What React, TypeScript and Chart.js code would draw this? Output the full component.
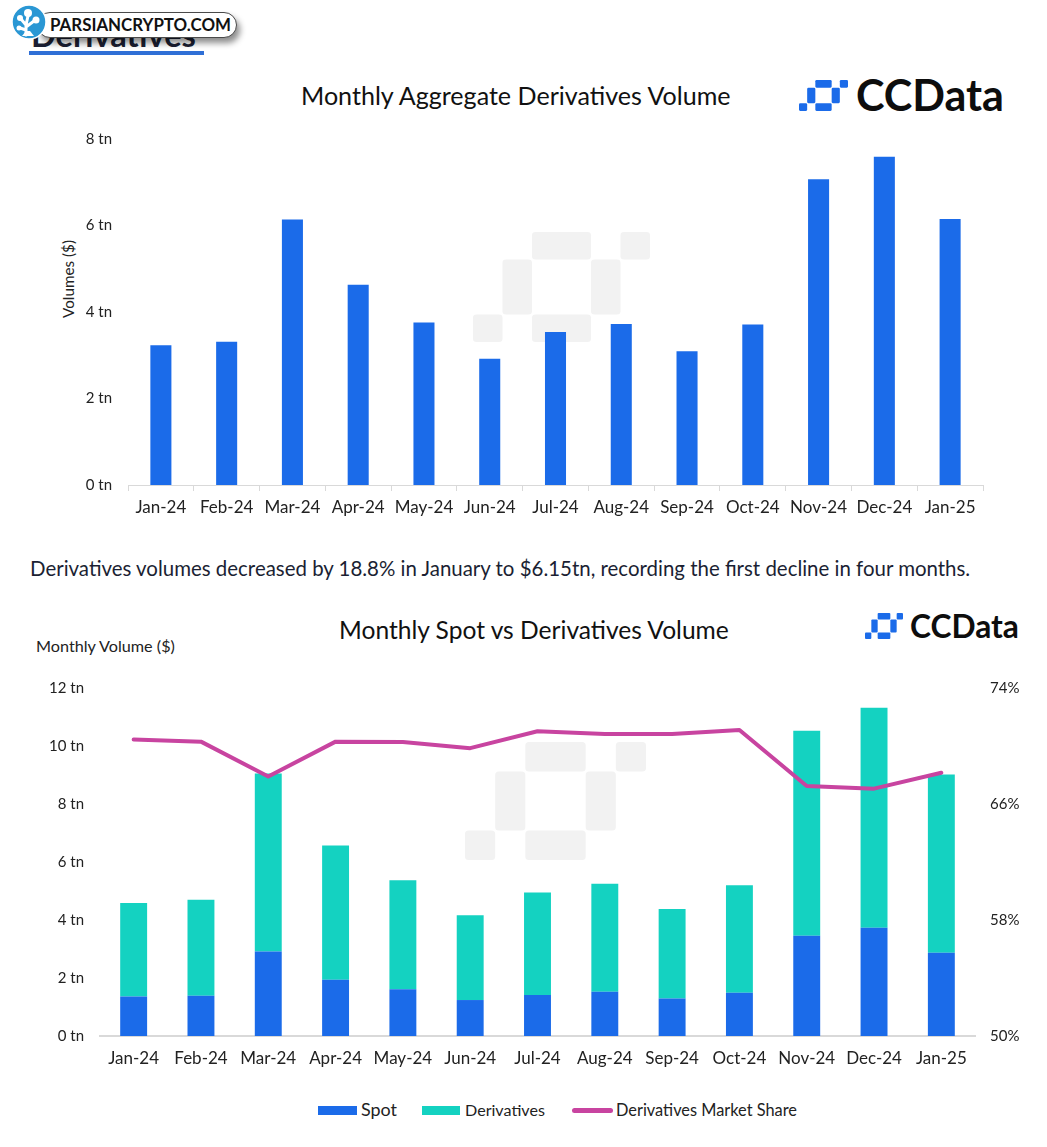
import React, { useEffect, useRef } from "react";
import { Chart, registerables } from "chart.js";

Chart.register(...registerables);

// ---------- data ----------
const months = [
  "Jan-24", "Feb-24", "Mar-24", "Apr-24", "May-24", "Jun-24", "Jul-24",
  "Aug-24", "Sep-24", "Oct-24", "Nov-24", "Dec-24", "Jan-25",
];
// trillions of USD
const derivativesVolume = [3.23, 3.31, 6.14, 4.63, 3.76, 2.92, 3.54, 3.72, 3.09, 3.71, 7.07, 7.59, 6.15];
const spotVolume = [1.36, 1.39, 2.91, 1.94, 1.61, 1.24, 1.41, 1.53, 1.29, 1.49, 3.46, 3.73, 2.87];
// percent
const derivativesShare = [70.45, 70.3, 67.9, 70.3, 70.28, 69.85, 71.02, 70.82, 70.82, 71.1, 67.24, 67.06, 68.16];

const volumeTicks1 = [0, 2, 4, 6, 8];
const volumeTicks2 = [0, 2, 4, 6, 8, 10, 12];
const shareTicks = [50, 58, 66, 74];

const seriesLabels = ["Spot", "Derivatives", "Derivatives Market Share"];

// ---------- style ----------
const FONT = "Lato, 'Noto Sans', sans-serif";
const BLUE = "#1b6be9";
const TEAL = "#14d2c1";
const MAGENTA = "#c844a0";
const AXIS = "#d9d9d9";
const TICK = "#222222";
const INK = "#1b1f33";
const WATERMARK = "#f2f2f2";

let measureCtx: CanvasRenderingContext2D | null = null;
function fitSize(text: string, weight: number, base: number, target: number) {
  if (!measureCtx) measureCtx = document.createElement("canvas").getContext("2d");
  if (!measureCtx) return base;
  measureCtx.font = `${weight} ${base}px Lato`;
  const w = measureCtx.measureText(text).width;
  return w > 0 ? (base * target) / w : base;
}

function Txt(props: { text: string; x1: number; x2: number; cy: number; weight?: number; color?: string; base?: number }) {
  const { text, x1, x2, cy, weight = 400, color = INK, base = 16 } = props;
  const fs = fitSize(text, weight, base, x2 - x1);
  return (
    <div
      style={{
        position: "absolute",
        left: x1,
        top: cy - fs * 0.63,
        fontFamily: FONT,
        fontWeight: weight,
        fontSize: fs,
        lineHeight: `${fs * 1.2}px`,
        color,
        whiteSpace: "nowrap",
      }}
    >
      {text}
    </div>
  );
}

function Mark(props: { x: number; y: number; w: number; h: number; color: string; r?: number }) {
  const { x, y, w, h, color, r = 0.12 } = props;
  const pieces = [
    [2, 0, 2, 1],
    [5, 0, 1, 1],
    [1, 1, 1, 2],
    [4, 1, 1, 2],
    [2, 3, 2, 1],
    [0, 3, 1, 1],
  ];
  return (
    <svg
      style={{ position: "absolute", left: x, top: y }}
      width={w}
      height={h}
      viewBox="0 0 6 4"
      preserveAspectRatio="none"
    >
      {pieces.map((p, i) => (
        <rect key={i} x={p[0]} y={p[1]} width={p[2]} height={p[3]} rx={r} ry={r} fill={color} />
      ))}
    </svg>
  );
}

function ChartOne() {
  const ref = useRef<HTMLCanvasElement>(null);
  useEffect(() => {
    if (!ref.current) return;
    const chart = new Chart(ref.current, {
      type: "bar",
      data: {
        labels: months,
        datasets: [
          {
            label: "Derivatives Volume",
            data: derivativesVolume,
            backgroundColor: BLUE,
            barPercentage: 0.32,
            categoryPercentage: 1,
          },
        ],
      },
      options: {
        responsive: false,
        animation: false,
        layout: { padding: { top: 19, right: 17, bottom: 0, left: 0 } },
        plugins: { legend: { display: false }, tooltip: { enabled: false } },
        scales: {
          x: {
            grid: { display: true, drawOnChartArea: false, drawTicks: true, tickLength: 6, color: AXIS },
            border: { display: true, color: AXIS, width: 1 },
            ticks: { color: TICK, font: { family: FONT, size: 17 }, padding: 6, maxRotation: 0, autoSkip: false },
            afterFit: (s: any) => {
              s.height = 45;
            },
          },
          y: {
            min: volumeTicks1[0],
            max: volumeTicks1[volumeTicks1.length - 1],
            afterBuildTicks: (s: any) => {
              s.ticks = volumeTicks1.map((v) => ({ value: v }));
            },
            ticks: {
              color: TICK,
              font: { family: FONT, size: 15 },
              padding: 0,
              callback: (v: any) => `${v} tn`,
            },
            grid: { display: false, drawTicks: true, tickLength: 16 },
            border: { display: false },
            afterFit: (s: any) => {
              s.width = 88;
            },
          },
        },
      },
    });
    return () => chart.destroy();
  }, []);
  return (
    <canvas
      ref={ref}
      width={960}
      height={410}
      style={{ position: "absolute", left: 40, top: 120, width: 960, height: 410 }}
    />
  );
}

function ChartTwo() {
  const ref = useRef<HTMLCanvasElement>(null);
  useEffect(() => {
    if (!ref.current) return;
    const chart = new Chart(ref.current, {
      type: "bar",
      data: {
        labels: months,
        datasets: [
          {
            type: "bar",
            label: seriesLabels[0],
            data: spotVolume,
            backgroundColor: BLUE,
            stack: "vol",
            yAxisID: "y",
            order: 1,
            barPercentage: 0.4,
            categoryPercentage: 1,
          },
          {
            type: "bar",
            label: seriesLabels[1],
            data: derivativesVolume,
            backgroundColor: TEAL,
            stack: "vol",
            yAxisID: "y",
            order: 1,
            barPercentage: 0.4,
            categoryPercentage: 1,
          },
          {
            type: "line",
            label: seriesLabels[2],
            data: derivativesShare,
            borderColor: MAGENTA,
            backgroundColor: MAGENTA,
            borderWidth: 4,
            pointRadius: 0,
            tension: 0,
            yAxisID: "y1",
            order: 0,
            borderJoinStyle: "round",
            borderCapStyle: "round",
          } as any,
        ],
      },
      options: {
        responsive: false,
        animation: false,
        layout: { padding: { top: 33, right: 0, bottom: 0, left: 0 } },
        plugins: { legend: { display: false }, tooltip: { enabled: false } },
        scales: {
          x: {
            stacked: true,
            grid: { display: false, drawTicks: false },
            border: { display: true, color: AXIS, width: 2 },
            ticks: { color: TICK, font: { family: FONT, size: 17 }, padding: 12, maxRotation: 0, autoSkip: false },
            afterFit: (s: any) => {
              s.height = 49;
            },
          },
          y: {
            stacked: true,
            position: "left",
            min: volumeTicks2[0],
            max: volumeTicks2[volumeTicks2.length - 1],
            afterBuildTicks: (s: any) => {
              s.ticks = volumeTicks2.map((v) => ({ value: v }));
            },
            ticks: {
              color: TICK,
              font: { family: FONT, size: 15 },
              padding: 16,
              callback: (v: any) => `${v} tn`,
            },
            grid: { display: false, drawTicks: false },
            border: { display: false },
            afterFit: (s: any) => {
              s.width = 80;
            },
          },
          y1: {
            position: "right",
            min: shareTicks[0],
            max: shareTicks[shareTicks.length - 1],
            afterBuildTicks: (s: any) => {
              s.ticks = shareTicks.map((v) => ({ value: v }));
            },
            ticks: {
              color: TICK,
              font: { family: FONT, size: 15 },
              padding: 15,
              callback: (v: any) => `${v}%`,
            },
            grid: { display: false, drawTicks: false },
            border: { display: false },
            afterFit: (s: any) => {
              s.width = 65;
            },
          },
        },
      },
    });
    return () => chart.destroy();
  }, []);
  return (
    <canvas
      ref={ref}
      width={1020}
      height={430}
      style={{ position: "absolute", left: 20, top: 655, width: 1020, height: 430 }}
    />
  );
}

function BadgeIcon() {
  return (
    <svg style={{ position: "absolute", left: 10, top: 3 }} width={38} height={38} viewBox="0 0 38 38">
      <circle cx={19} cy={19} r={17} fill="#2a97d4" stroke="#ffffff" strokeWidth={1.5} />
      <path d="M16 32 L16 22 L11 16 M16 22 L18 13 M16 24 L24 18 M16 27 L10 25" stroke="#fff" strokeWidth={3} fill="none" strokeLinecap="round" />
      <circle cx={18} cy={10} r={4} fill="#fff" />
      <circle cx={10} cy={15} r={3} fill="#fff" />
      <circle cx={26} cy={17} r={3.5} fill="#fff" />
      <circle cx={9} cy={25} r={2.5} fill="#fff" />
      <path d="M12 33 L24 33 L20 28 L16 28 Z" fill="#fff" />
    </svg>
  );
}

function LegendBox(props: { x1: number; x2: number; color: string; line?: boolean }) {
  const { x1, x2, color, line } = props;
  const h = line ? 5 : 9;
  return (
    <div
      style={{
        position: "absolute",
        left: x1,
        top: 1110 - h / 2,
        width: x2 - x1,
        height: h,
        background: color,
        borderRadius: line ? 3 : 0,
      }}
    />
  );
}

export default function App() {
  return (
    <div
      style={{
        position: "absolute",
        left: 0,
        top: 0,
        width: 1047,
        height: 1147,
        background: "#ffffff",
        overflow: "hidden",
        fontFamily: FONT,
      }}
    >
      {/* header */}
      <Txt text="Derivatives" x1={31} x2={196} cy={36} weight={700} color={INK} base={30} />
      <div style={{ position: "absolute", left: 29, top: 51, width: 175, height: 4, background: "#2f6fd6" }} />
      <div
        style={{
          position: "absolute",
          left: 37,
          top: 12,
          width: 200,
          height: 26,
          boxSizing: "border-box",
          border: "1.5px solid #4a4a4a",
          borderRadius: 13,
          background: "#ffffff",
          boxShadow: "3px 5px 6px rgba(0,0,0,0.45)",
        }}
      />
      <Txt text="PARSIANCRYPTO.COM" x1={50} x2={231} cy={25.5} weight={700} color="#111111" base={17} />
      <BadgeIcon />

      {/* chart 1 */}
      <Mark x={473} y={232} w={177} h={110} color={WATERMARK} />
      <Txt text="Monthly Aggregate Derivatives Volume" x1={301} x2={733} cy={96} weight={400} color="#111111" base={22} />
      <Mark x={799} y={80} w={49} h={31} color={BLUE} r={0.15} />
      <Txt text="CCData" x1={856} x2={1004} cy={96} weight={700} color="#0d0d0d" base={40} />
      <div
        style={{
          position: "absolute",
          left: 68,
          top: 279,
          transform: "translate(-50%, -50%) rotate(-90deg)",
          fontFamily: FONT,
          fontSize: fitSize("Volumes ($)", 400, 15, 78),
          color: TICK,
          whiteSpace: "nowrap",
          lineHeight: 1.2,
        }}
      >
        Volumes ($)
      </div>
      <ChartOne />

      {/* paragraph */}
      <Txt
        text="Derivatives volumes decreased by 18.8% in January to $6.15tn, recording the first decline in four months."
        x1={30}
        x2={973}
        cy={569}
        weight={400}
        color={INK}
        base={19}
      />

      {/* chart 2 */}
      <Mark x={465} y={742} w={181} h={118} color={WATERMARK} />
      <Txt text="Monthly Spot vs Derivatives Volume" x1={339} x2={731} cy={630} weight={400} color="#111111" base={22} />
      <Mark x={865} y={613} w={38} h={26} color={BLUE} r={0.15} />
      <Txt text="CCData" x1={910} x2={1019} cy={627} weight={700} color="#0d0d0d" base={30} />
      <Txt text="Monthly Volume ($)" x1={36} x2={176} cy={646} weight={400} color={TICK} base={15} />
      <ChartTwo />

      {/* legend */}
      <LegendBox x1={318} x2={357} color={BLUE} />
      <Txt text={seriesLabels[0]} x1={361} x2={397} cy={1110} color={TICK} base={16} />
      <LegendBox x1={422} x2={460} color={TEAL} />
      <Txt text={seriesLabels[1]} x1={465} x2={545} cy={1110} color={TICK} base={16} />
      <LegendBox x1={572} x2={613} color={MAGENTA} line />
      <Txt text={seriesLabels[2]} x1={616} x2={797} cy={1110} color={TICK} base={16} />
    </div>
  );
}
